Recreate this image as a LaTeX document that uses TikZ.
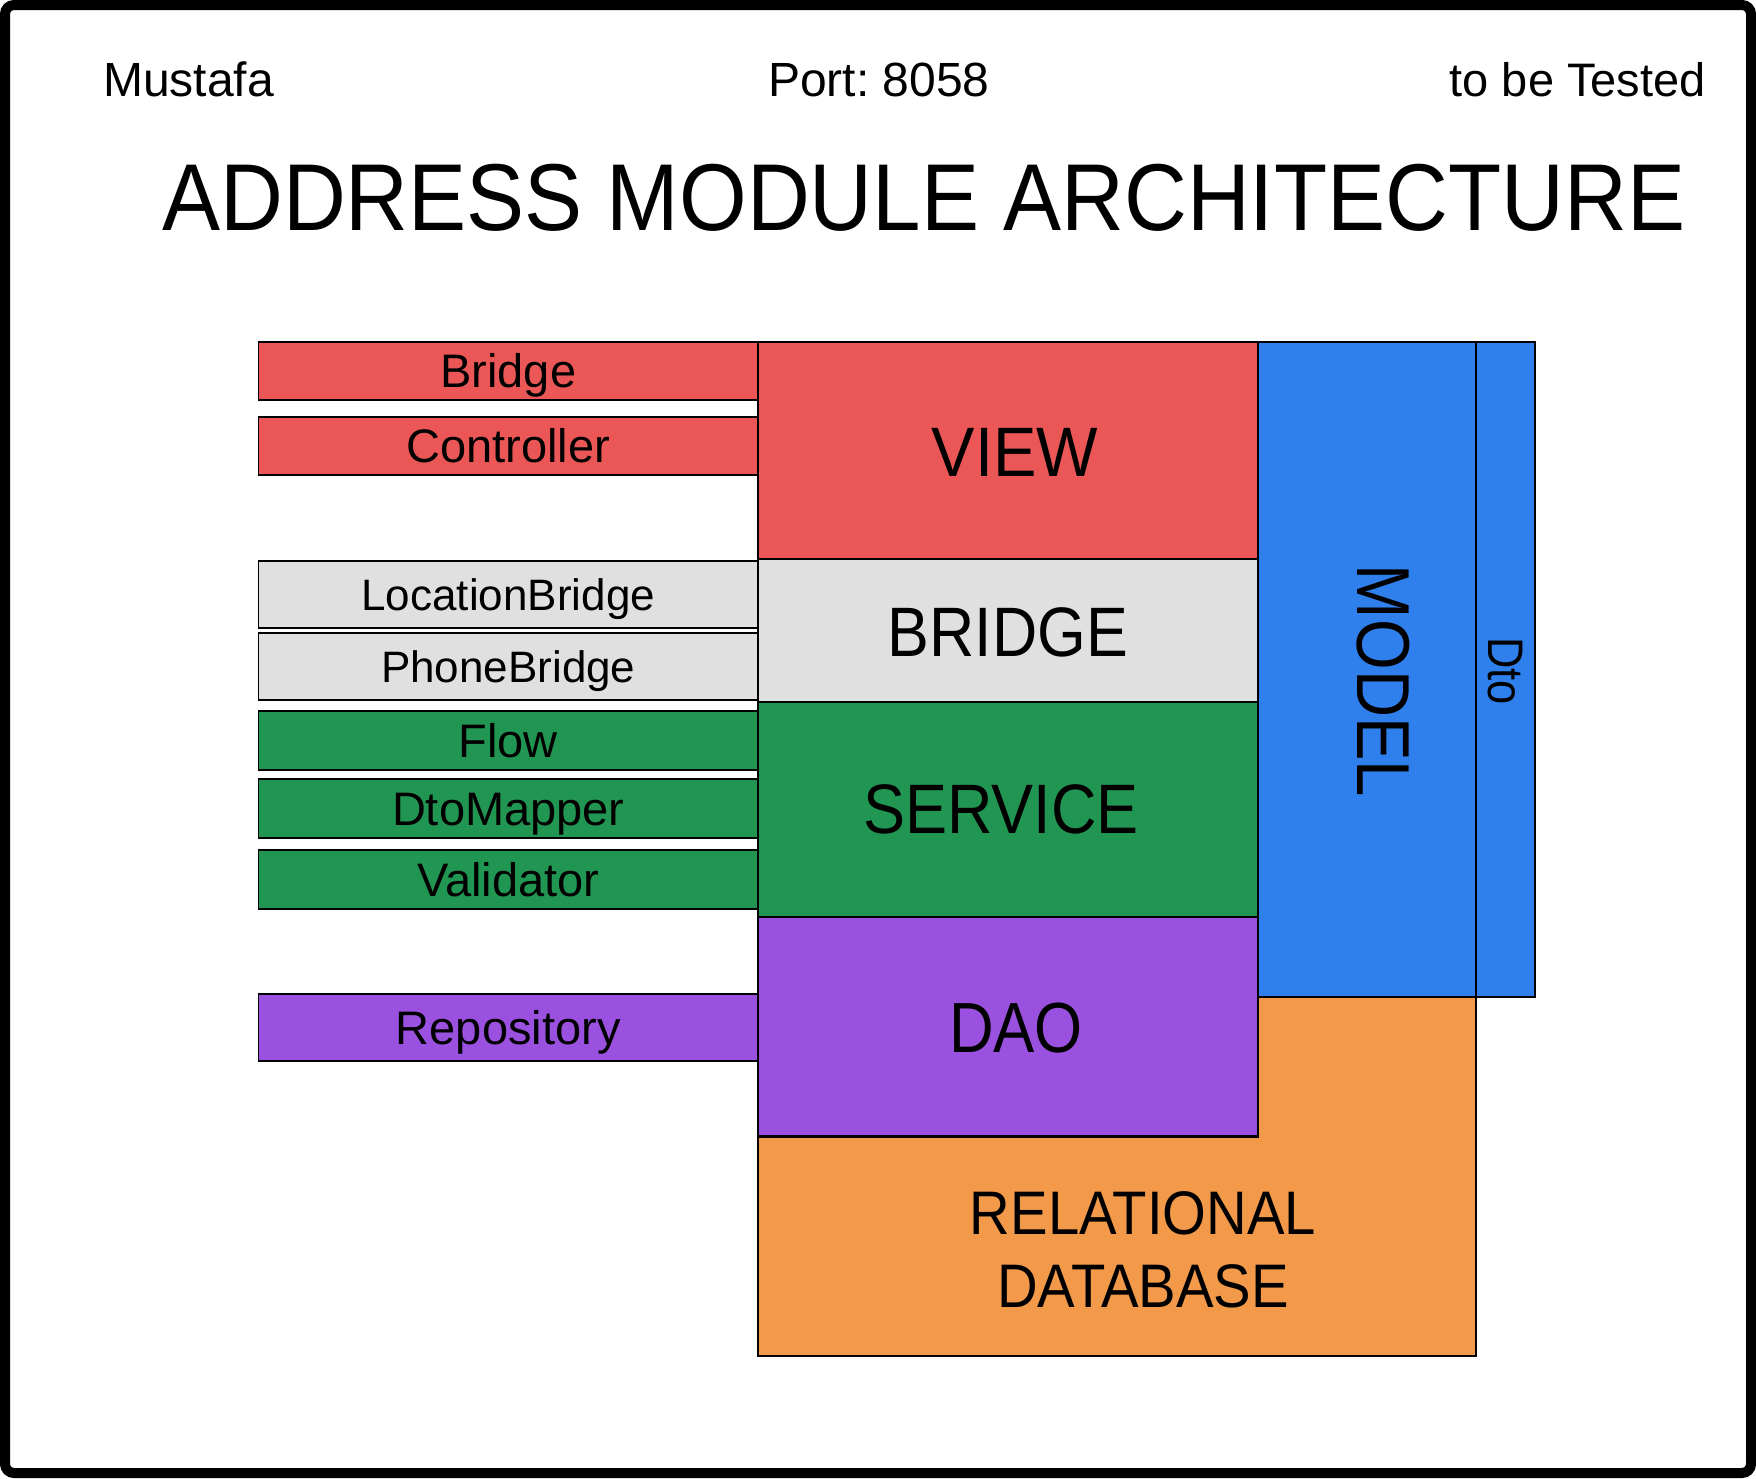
\documentclass[tikz,border=0pt]{standalone}
\usepackage{fontspec}
\setmainfont{Liberation Sans}
\usepackage{graphicx}
\frenchspacing
\definecolor{cred}{HTML}{EB5757}
\definecolor{cgray}{HTML}{E0E0E0}
\definecolor{cgreen}{HTML}{219653}
\definecolor{cpurple}{HTML}{9B51E0}
\definecolor{cblue}{HTML}{2F80ED}
\definecolor{corange}{HTML}{F2994A}
\tikzset{
  blk/.style={draw=black, line width=1.4pt, inner sep=0pt, rectangle},
  lbox/.style={blk, minimum width=499.5pt, font=\fontsize{47}{50}\selectfont, text height=33.6pt, text depth=0pt},
  sbox/.style={lbox, font=\fontsize{44}{48}\selectfont, text height=31.5pt},
  bigbox/.style={blk, minimum width=500pt},
  bigtxt/.style={inner sep=0pt, font=\fontsize{70}{74}\selectfont, text height=50.1pt, text depth=0pt},
  hdr/.style={inner sep=0pt, font=\fontsize{48}{52}\selectfont},
}
\begin{document}
\begin{tikzpicture}[x=1pt,y=-1pt]
\useasboundingbox (0,0) rectangle (1756,1478);
\fill[white] (0,0) rectangle (1756,1478);
\draw[line width=10pt, rounded corners=9pt] (5,5) rectangle (1751,1473);

% header
\node[hdr, anchor=base west] (author) at (103,96) {Mustafa};
\node[hdr, anchor=base west] (port) at (768,96) {Port:\ 8058};
\node[hdr, anchor=base east, font=\fontsize{47}{50}\selectfont] (status) at (1706,96) {to be Tested};
\node[inner sep=0pt, anchor=base west, font=\fontsize{95}{100}\selectfont] (title) at (162,230) {\scalebox{0.916}[1]{ADDRESS MODULE ARCHITECTURE}};

% database (L-shaped)
\draw[fill=corange, line width=1.4pt] (758,1137.5) -- (1258,1137.5) -- (1258,997) -- (1476,997) -- (1476,1356) -- (758,1356) -- cycle;
\node[inner sep=0pt, align=center, font=\fontsize{61.5}{73}\selectfont, anchor=base] (dbtxt) at (1143,1307) {\scalebox{0.915}[1]{RELATIONAL}\\\scalebox{0.915}[1]{DATABASE}};

% model and dto
\node[blk, fill=cblue, minimum width=218pt, minimum height=655pt] (model) at (1367,669.5) {};
\node[blk, fill=cblue, minimum width=59pt, minimum height=655pt] (dto) at (1505.5,669.5) {};
\node[inner sep=0pt, rotate=-90, font=\fontsize{75}{78}\selectfont, text height=53.7pt, text depth=0pt] (modeltxt) at (1384,681) {\scalebox{0.87}[1]{MODEL}};
\node[inner sep=0pt, rotate=-90, font=\fontsize{50}{54}\selectfont, text height=35.8pt, text depth=0pt] (dtotxt) at (1506,671) {\scalebox{0.87}[1]{Dto}};

% layers
\node[bigbox, fill=cred, minimum height=217pt] (view) at (1008,450.5) {};
\node[bigbox, fill=cgray, minimum height=143pt] (bridge) at (1008,630.5) {};
\node[bigbox, fill=cgreen, minimum height=215pt] (service) at (1008,809.5) {};
\node[bigbox, fill=cpurple, minimum height=219pt] (dao) at (1008,1026.5) {};
\node[bigtxt] (viewtxt) at (1015,451) {\scalebox{0.93}[1]{VIEW}};
\node[bigtxt] (bridgetxt) at (1008,631) {\scalebox{0.895}[1]{BRIDGE}};
\node[bigtxt] (servicetxt) at (1001,808) {\scalebox{0.9}[1]{SERVICE}};
\node[bigtxt, font=\fontsize{71}{75}\selectfont, text height=50.8pt] (daotxt) at (1016,1027.5) {\scalebox{0.87}[1]{DAO}};

% left components
\node[lbox, fill=cred, minimum height=58pt] (cbridge) at (508.25,371) {Bridge};
\node[lbox, fill=cred, minimum height=58pt] (ccontroller) at (508.25,446) {Controller};
\node[sbox, fill=cgray, minimum height=67pt] (clocation) at (508.25,594.5) {LocationBridge};
\node[sbox, fill=cgray, minimum height=67pt] (cphone) at (508.25,666.5) {PhoneBridge};
\node[lbox, fill=cgreen, minimum height=59pt] (cflow) at (508.25,740.5) {Flow};
\node[lbox, fill=cgreen, minimum height=59pt] (cmapper) at (508.25,808.5) {DtoMapper};
\node[lbox, fill=cgreen, minimum height=59pt] (cvalidator) at (508.25,879.5) {Validator};
\node[lbox, fill=cpurple, minimum height=67pt] (crepo) at (508.25,1027.5) {Repository};
\end{tikzpicture}
\end{document}
